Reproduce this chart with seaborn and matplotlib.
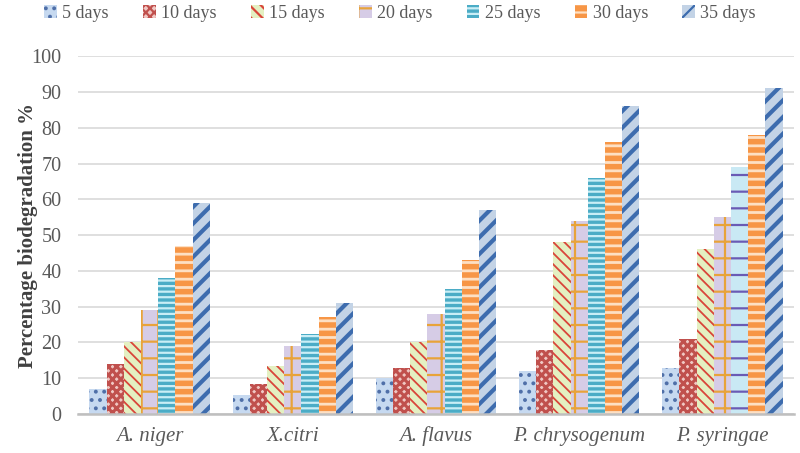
import numpy as np
import pandas as pd
import matplotlib
matplotlib.use('Agg')
import matplotlib.pyplot as plt
import seaborn as sns
from matplotlib.patches import Patch

# data
organisms = ['A. niger', 'X.citri', 'A. flavus', 'P. chrysogenum', 'P. syringae']
days = ['5 days', '10 days', '15 days', '20 days', '25 days', '30 days', '35 days']
d5 = [7, 5.3, 10, 12, 13]
d10 = [14, 8.5, 13, 18, 21]
d15 = [20, 13.5, 20, 48, 46]
d20 = [29, 19, 28, 54, 55]
d25 = [38, 22.5, 35, 66, 69]
d30 = [47, 27, 43, 76, 78]
d35 = [59, 31, 57, 86, 91]
values = [d5, d10, d15, d20, d25, d30, d35]

rows = []
for day, vals in zip(days, values):
    for org, v in zip(organisms, vals):
        rows.append({'organism': org, 'day': day, 'value': v})
df = pd.DataFrame(rows)

# face colour, hatch colour, hatch pattern, hatch width
styles = {
    '5 days': ('#c6d9f0', '#4f6fa8', '..', 1.6),
    '10 days': ('#f0c8c4', '#c0504d', 'xxxx', 2.2),
    '15 days': ('#e4f0c2', '#d9453a', '\\\\\\', 1.3),
    '20 days': ('#d6cce6', '#e8a33a', '+', 1.6),
    '25 days': ('#4bacc6', '#c9eef6', '---', 1.6),
    '30 days': ('#f79646', '#fde0c4', '--', 2.0),
    '35 days': ('#c3d3e6', '#3d6cae', '//', 3.0),
}

sns.set_theme(style='white')
plt.rcParams['font.family'] = ['Liberation Serif', 'DejaVu Serif']
plt.rcParams['hatch.linewidth'] = 1.6

fig = plt.figure(figsize=(8, 4.53), dpi=100)
ax = fig.add_axes([0.0975, 0.086, 0.895, 0.79])

palette = {k: v[0] for k, v in styles.items()}
sns.barplot(data=df, x='organism', y='value', hue='day', order=organisms,
            hue_order=days, palette=palette, width=0.84, saturation=1,
            legend=False, ax=ax)

for container, day in zip(ax.containers, days):
    face, hcol, hatch, hw = styles[day]
    for bar in container:
        bar.set_hatch(hatch)
        bar.set_edgecolor(hcol)
        bar.set_linewidth(0)
        if hasattr(bar, 'set_hatch_linewidth'):
            bar.set_hatch_linewidth(hw)

# the 25-day bar of P. syringae has its own pale dashed fill in the original
odd = ax.containers[days.index('25 days')][organisms.index('P. syringae')]
odd.set_facecolor('#c9e9f4')
odd.set_edgecolor('#6a5bb5')
odd.set_hatch('-')

ax.set_ylim(0, 100)
ax.set_xlim(-0.5, len(organisms) - 0.5)
ax.set_yticks(range(0, 101, 10))
ax.yaxis.grid(True, color='#d9d9d9', linewidth=1.2)
ax.set_axisbelow(True)
for s in ['top', 'right', 'left']:
    ax.spines[s].set_visible(False)
ax.spines['bottom'].set_color('#bfbfbf')
ax.spines['bottom'].set_linewidth(1.8)

ax.set_xticks(np.arange(len(organisms)))
ax.set_xticklabels(organisms, fontstyle='italic', fontsize=15, color='#595959')
ax.tick_params(axis='x', length=0, pad=9)
ax.set_xticks(np.arange(-0.5, len(organisms)), minor=True)
ax.tick_params(axis='x', which='minor', length=6, width=1.8, color='#bfbfbf')
ax.tick_params(axis='y', labelsize=14.5, labelcolor='#595959', length=0, pad=12)

ax.set_xlabel('')
ax.set_ylabel('Percentage biodegradation %', fontsize=15, fontweight='bold',
              color='#404040', labelpad=-5)

handles = [Patch(facecolor=styles[d][0], edgecolor=styles[d][1],
                 hatch=styles[d][2], linewidth=0) for d in days]
fig.legend(handles, days, loc='upper center', bbox_to_anchor=(0.5, 1.025),
           ncol=7, frameon=False, fontsize=13, handlelength=0.7,
           handleheight=0.7, handletextpad=0.3, columnspacing=1.9,
           labelcolor='#595959')

fig.savefig('out.png', dpi=100)
